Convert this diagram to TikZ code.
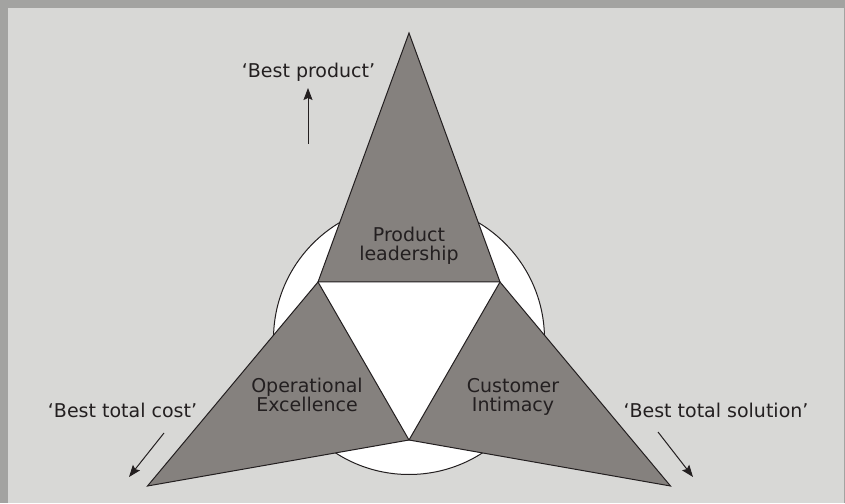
\documentclass[tikz,border=0pt]{standalone}
\usepackage{fontspec}
\setmainfont{DejaVu Sans}
\usetikzlibrary{arrows.meta}

\definecolor{framegray}{HTML}{A3A3A1}
\definecolor{paper}{HTML}{D8D8D6}
\definecolor{wedge}{HTML}{85817E}
\definecolor{ink}{HTML}{231F20}

\tikzset{
  wedgeshape/.style={fill=wedge, draw=ink, line width=1pt, line join=miter},
  pushes/.style={draw=ink, line width=1pt, -{Stealth[length=12pt,width=9pt,inset=2pt]}},
  discipline/.style={align=center, text=ink, font=\fontsize{19}{19}\selectfont},
  promise/.style={text=ink, font=\fontsize{19}{19}\selectfont, anchor=base},
}

\begin{document}
\begin{tikzpicture}[x=10pt,y=10pt]
  % frame and panel
  \fill[framegray] (0,0) rectangle (84.5,50.3);
  \fill[paper] (0.8,0) rectangle (84.4,49.5);
  \useasboundingbox (0,0) rectangle (84.5,50.3);

  % corners of the three wedges
  \coordinate (top) at (40.9,47.0);
  \coordinate (left) at (14.75,1.7);
  \coordinate (right) at (67.05,1.7);
  \coordinate (a) at (31.8,22.1);
  \coordinate (b) at (50.0,22.1);
  \coordinate (c) at (40.9,6.3);

  % white disc and inner triangle
  \draw[ink, fill=white, line width=1pt] (40.9,16.4) circle (13.55);
  \fill[white] (a) -- (b) -- (c) -- cycle;

  \draw[wedgeshape] (a) -- (top) -- (b) -- cycle;
  \draw[wedgeshape] (a) -- (c) -- (left) -- cycle;
  \draw[wedgeshape] (b) -- (c) -- (right) -- cycle;

  \node[discipline] (lead) at (40.9,25.7) {Product\\leadership};
  \node[discipline] (opex) at (30.7,10.8) {Operational\\Excellence};
  \node[discipline] (intim) at (51.3,10.6) {Customer\\Intimacy};

  % value promises
  \node[promise] (bestprod) at (30.85,42.5) {‘Best product’};
  \node[promise] (bestcost) at (12.25,8.5) {‘Best total cost’};
  \node[promise] (bestsol) at (71.6,8.5) {‘Best total solution’};

  \coordinate (prodfrom) at (30.8,35.9);
  \coordinate (prodto) at (30.8,41.5);
  \coordinate (costfrom) at (16.4,7.0);
  \coordinate (costto) at (12.9,2.6);
  \coordinate (solfrom) at (65.8,7.1);
  \coordinate (solto) at (69.3,2.6);

  \draw[pushes] (prodfrom) -- (prodto);
  \draw[pushes] (costfrom) -- (costto);
  \draw[pushes] (solfrom) -- (solto);
\end{tikzpicture}
\end{document}
